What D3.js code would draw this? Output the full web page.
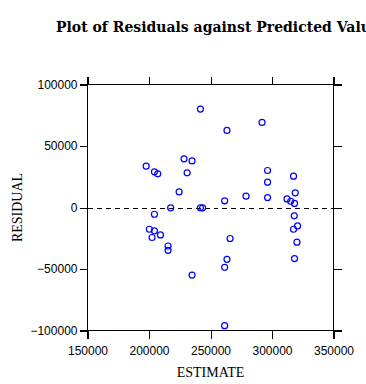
<!DOCTYPE html>
<html>
<head>
<meta charset="utf-8">
<script src="https://cdn.jsdelivr.net/npm/d3@7"></script>
<style>
  html, body { margin: 0; padding: 0; background: #fff; }
  svg { display: block; }
</style>
</head>
<body>
<svg id="chart" width="366" height="384"></svg>
<script>
// ---- data ----
const titleText = "Plot of Residuals against Predicted Values";
const xLabel = "ESTIMATE";
const yLabel = "RESIDUAL";
const xTicks = [150000, 200000, 250000, 300000, 350000];
const yTicks = [-100000, -50000, 0, 50000, 100000];
const estimate = [
  241800, 263400, 197700, 228500, 235000, 204400, 207100, 231000, 224500, 261500,
  278900, 217600, 241800, 243600, 291900, 296400, 296400, 317500, 296400, 318900,
  312200, 315200, 318300, 318100, 317500, 320800, 320300, 318300, 204400, 200300,
  204400, 209300, 202500, 265900, 215500, 215500, 263400, 261500, 235000, 261500
];
const residual = [
  80000, 62700, 33600, 39600, 37900, 29000, 27400, 28200, 12700, 5400,
  9200, -300, -200, -300, 69200, 30100, 20600, 25500, 8100, 11900,
  7000, 5100, 3300, -6800, -17700, -15000, -28200, -41500, -5500, -17700,
  -19000, -22300, -24400, -25200, -31300, -34800, -42100, -48600, -54900, -96100
];

// ---- drawing ----
const svg = d3.select("#chart");
const x = d3.scaleLinear().domain([150000, 350000]).range([87.5, 333.5]);
const y = d3.scaleLinear().domain([-100000, 100000]).range([330.5, 84.5]);
const fmt = d3.format("d");

// title
svg.append("text")
  .attr("x", 56).attr("y", 32)
  .attr("font-family", "'DejaVu Serif', serif")
  .attr("font-size", 14).attr("font-weight", "bold")
  .attr("fill", "#000")
  .text(titleText);

// zero reference line
svg.append("line")
  .attr("x1", x(150000)).attr("x2", x(350000))
  .attr("y1", Math.round(y(0)) + 0.5).attr("y2", Math.round(y(0)) + 0.5)
  .attr("stroke", "#000").attr("stroke-width", 1)
  .attr("stroke-dasharray", "5,4")
  .attr("shape-rendering", "crispEdges");

// axes (ticks + labels)
const tickFont = "'Liberation Sans', Arial, sans-serif";
const gl = svg.append("g").attr("transform", `translate(${x(150000)},0)`)
  .call(d3.axisLeft(y).tickValues(yTicks).tickFormat(fmt).tickSize(8).tickSizeOuter(0).tickPadding(2));
const gb = svg.append("g").attr("transform", `translate(0,${y(-100000)})`)
  .call(d3.axisBottom(x).tickValues(xTicks).tickFormat(fmt).tickSize(8).tickSizeOuter(0).tickPadding(8));
const gr = svg.append("g").attr("transform", `translate(${x(350000)},0)`)
  .call(d3.axisRight(y).tickValues(yTicks).tickFormat("").tickSize(8).tickSizeOuter(0));
const gt = svg.append("g").attr("transform", `translate(0,${y(100000)})`)
  .call(d3.axisTop(x).tickValues(xTicks).tickFormat("").tickSize(8).tickSizeOuter(0));
[gl, gb, gr, gt].forEach(g => {
  g.select(".domain").remove();
  g.selectAll("line").attr("stroke", "#000").attr("shape-rendering", "crispEdges");
  g.selectAll("text").attr("font-family", tickFont).attr("font-size", 12).attr("fill", "#000");
});

// frame (extends past corners like the reference)
const frame = svg.append("g").attr("stroke", "#000").attr("stroke-width", 1).attr("shape-rendering", "crispEdges");
frame.append("line").attr("x1", x(150000)).attr("x2", x(150000)).attr("y1", y(100000) - 8).attr("y2", y(-100000) + 8);
frame.append("line").attr("x1", x(350000)).attr("x2", x(350000)).attr("y1", y(100000) - 8).attr("y2", y(-100000) + 8);
frame.append("line").attr("x1", x(150000) - 8).attr("x2", x(350000) + 8).attr("y1", y(100000)).attr("y2", y(100000));
frame.append("line").attr("x1", x(150000) - 8).attr("x2", x(350000) + 8).attr("y1", y(-100000)).attr("y2", y(-100000));

// axis titles
svg.append("text")
  .attr("x", (x(150000) + x(350000)) / 2).attr("y", 377)
  .attr("text-anchor", "middle")
  .attr("font-family", "'Liberation Serif', 'Times New Roman', serif")
  .attr("font-size", 14).attr("fill", "#000")
  .text(xLabel);
svg.append("text")
  .attr("transform", `translate(22,${y(0)}) rotate(-90)`)
  .attr("text-anchor", "middle")
  .attr("font-family", "'Liberation Serif', 'Times New Roman', serif")
  .attr("font-size", 14).attr("fill", "#000")
  .text(yLabel);

// points
svg.append("g").selectAll("circle")
  .data(estimate.map((e, i) => ({e, r: residual[i]})))
  .join("circle")
  .attr("cx", d => x(d.e)).attr("cy", d => y(d.r))
  .attr("r", 3)
  .attr("fill", "none").attr("stroke", "#0000ff").attr("stroke-width", 1.2);
</script>
</body>
</html>
